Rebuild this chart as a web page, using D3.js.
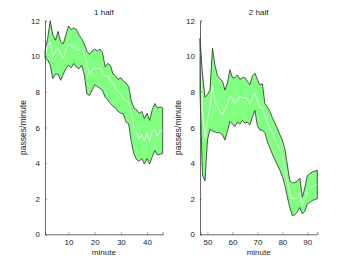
<!DOCTYPE html>
<html>
<head>
<meta charset="utf-8">
<script src="https://cdn.jsdelivr.net/npm/d3@7"></script>
<style>
html,body{margin:0;padding:0;background:#fff;}
svg{display:block;}
text{font-family:"Liberation Sans",Arial,Helvetica,sans-serif;fill:#222;}
</style>
</head>
<body>
<script>
// ---- data ----
const minutes1 = d3.range(1, 47);
const upper1 = [10.3,11.0,12.0,11.2,10.9,11.4,10.8,10.7,11.2,11.7,11.5,11.6,11.5,11.2,11.0,10.7,10.3,10.1,10.3,10.4,10.3,10.4,10.2,9.4,9.6,9.5,9.0,8.9,8.7,8.8,8.6,8.5,8.3,7.5,7.1,7.0,6.8,6.9,6.5,6.8,6.4,7.0,7.35,7.1,7.15,7.1];
const mean1  = [10.0,10.6,10.8,9.95,10.3,10.45,10.1,9.9,10.35,10.7,10.55,10.6,10.4,10.35,10.45,10.1,9.6,9.0,9.25,9.35,9.3,9.35,9.1,8.85,8.9,8.55,8.5,8.2,8.0,7.85,7.6,7.5,7.4,6.8,6.1,5.7,5.35,5.6,5.2,5.7,5.2,5.8,5.9,5.5,5.85,5.8];
const lower1 = [9.9,9.8,9.5,8.75,9.0,9.0,8.65,9.0,9.3,9.5,9.35,9.6,9.4,9.3,9.5,9.0,7.9,7.8,8.1,8.4,8.3,8.2,8.1,7.7,7.55,7.35,7.2,7.1,6.9,6.8,6.75,6.3,6.2,5.2,4.5,4.2,4.1,4.25,3.95,4.25,3.95,4.35,4.7,4.45,4.5,4.55];

const minutes2 = d3.range(47, 95);
const upper2 = [11.0,9.0,7.7,7.85,8.1,10.45,9.5,8.9,8.75,8.6,8.1,8.5,9.25,8.8,8.8,8.95,8.7,8.8,8.8,8.6,8.4,8.9,9.05,8.7,8.4,8.45,7.35,7.15,6.9,6.55,6.25,5.95,5.6,5.3,4.8,3.9,3.0,2.9,2.9,3.0,3.15,2.1,2.6,3.3,3.4,3.5,3.55,3.6];
const mean2  = [10.3,6.8,5.4,6.5,7.2,8.3,7.5,7.2,6.9,6.7,7.0,7.35,7.8,7.6,7.35,7.5,7.8,7.65,7.7,7.6,7.25,7.7,7.95,7.5,7.1,7.15,6.6,6.3,6.0,5.7,5.35,5.1,4.7,4.3,3.7,3.0,2.3,2.0,2.0,2.05,2.3,1.6,2.0,2.4,2.6,2.7,2.75,2.8];
const lower2 = [8.0,3.3,3.0,5.3,5.9,5.8,5.75,5.7,5.7,5.6,5.3,5.8,6.35,6.2,6.05,6.3,6.2,6.4,6.25,6.3,6.15,6.6,6.95,6.1,5.85,5.85,5.7,5.2,4.85,4.5,4.2,3.9,3.6,3.25,2.75,2.1,1.5,1.05,1.1,1.25,1.5,1.15,1.3,1.7,1.8,1.9,1.95,2.0];

const titles = ["1 half", "2 half"];
const yTicks = [0, 2, 4, 6, 8, 10, 12];
const xTicks1 = [10, 20, 30, 40];
const xTicks2 = [50, 60, 70, 80, 90];

// ---- chart ----
const W = 350, H = 264;
const svg = d3.select("body").append("svg").attr("width", W).attr("height", H);

const panels = [
  {x: minutes1, up: upper1, mid: mean1, lo: lower1, dom: [1, 46], left: 45, right: 162.7, ticks: xTicks1, title: titles[0]},
  {x: minutes2, up: upper2, mid: mean2, lo: lower2, dom: [47, 94], left: 200, right: 317.3, ticks: xTicks2, title: titles[1]}
];
const plotTop = 20.7, plotBottom = 234.3;

panels.forEach(p => {
  const xs = d3.scaleLinear().domain(p.dom).range([p.left, p.right]);
  const ys = d3.scaleLinear().domain([0, 12]).range([plotBottom, plotTop]);
  const g = svg.append("g");

  const poly = p.x.map((m, i) => [xs(m), ys(p.up[i])])
    .concat(p.x.map((m, i) => [xs(m), ys(p.lo[i])]).reverse());
  g.append("path")
    .attr("d", "M" + poly.map(d => d.join(",")).join("L") + "Z")
    .attr("fill", "#80ff80")
    .attr("stroke", "#2a2a2a")
    .attr("stroke-width", 0.8)
    .attr("stroke-linejoin", "round");

  g.append("path")
    .datum(p.x.map((m, i) => [m, p.mid[i]]))
    .attr("d", d3.line().x(d => xs(d[0])).y(d => ys(d[1])))
    .attr("fill", "none")
    .attr("stroke", "#ffffff")
    .attr("stroke-width", 0.7);

  const ax = d3.axisBottom(xs).tickValues(p.ticks).tickSize(-2).tickPadding(5).tickFormat(d3.format("d"));
  const xg = g.append("g").attr("transform", `translate(0,${plotBottom})`).call(ax);
  const ay = d3.axisLeft(ys).tickValues(yTicks).tickSize(-2).tickPadding(5).tickFormat(d3.format("d"));
  const yg = g.append("g").attr("transform", `translate(${p.left},0)`).call(ay);
  [xg, yg].forEach(a => {
    a.select(".domain").attr("stroke", "#444").attr("stroke-width", 0.8);
    a.selectAll(".tick line").attr("stroke", "#555").attr("stroke-width", 0.6);
    a.selectAll(".tick text").attr("font-size", 8).attr("fill", "#222")
      .attr("font-family", "'Liberation Sans',Arial,sans-serif");
  });

  g.append("text")
    .attr("x", (p.left + p.right) / 2).attr("y", 14.5)
    .attr("text-anchor", "middle").attr("font-size", 8)
    .text(p.title);
  g.append("text")
    .attr("x", (p.left + p.right) / 2).attr("y", 255)
    .attr("text-anchor", "middle").attr("font-size", 8)
    .text("minute");
  g.append("text")
    .attr("transform", `translate(${p.left - 19},${(plotTop + plotBottom) / 2}) rotate(-90)`)
    .attr("text-anchor", "middle").attr("font-size", 8.5)
    .text("passes/minute");
});
</script>
</body>
</html>
